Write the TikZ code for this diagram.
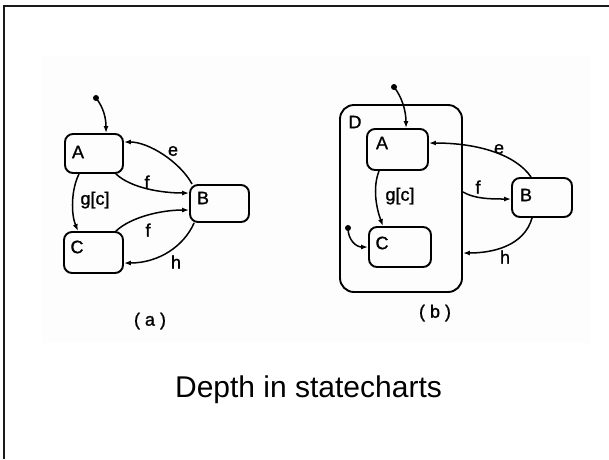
\documentclass[tikz,border=0pt]{standalone}
\usepackage{fontspec}
\setmainfont{Liberation Sans}
\usetikzlibrary{arrows.meta,calc}

\tikzset{
  state/.style={draw, line width=1.9pt, rounded corners=8pt, inner sep=0pt},
  super/.style={draw, line width=1.9pt, rounded corners=14pt, inner sep=0pt},
  lbl/.style={font=\fontsize{18}{18}\selectfont\addfontfeature{FakeBold=1.2}, inner sep=0pt},
  trans/.style={line width=1.5pt, -{Latex[length=7pt,width=5pt]}},
  initdot/.style={circle, fill=black, inner sep=0pt, minimum size=6pt},
}

\begin{document}
\begin{tikzpicture}[x=1pt,y=-1pt]
\useasboundingbox (0,0) rectangle (609,459);
\fill[white] (0,0) rectangle (609,459);

% page frame (left and top edges)
\draw[line width=2pt, black!90] (4,459) -- (4,5.5) -- (609,5.5);

% scanned figure area
\fill[black!0.8] (42,56) rectangle (591,343);

% ---------- (a) flat statechart ----------
\node[state, minimum width=58pt, minimum height=39pt] (aA) at (94,153.5) {};
\node[state, minimum width=59pt, minimum height=37pt] (aB) at (219.5,203.5) {};
\node[state, minimum width=59pt, minimum height=41pt] (aC) at (93.5,252.5) {};
\node[lbl] (aAt) at (78,152) {A};
\node[lbl] (aBt) at (203,198) {B};
\node[lbl] (aCt) at (77,247) {C};

\node[initdot] (a0) at (96,98) {};
\draw[trans] (a0.center) .. controls +(8,10) and +(0,-14) .. ($(aA.north)+(12,0)$);
\draw[trans] ($(aB.north west)+(3,0)$) .. controls +(-12,-22) and +(25,0) .. ($(aA.east)+(0,-11.5)$);
\draw[trans] ($(aA.south east)+(-8,0)$) .. controls +(15,14) and +(-28,0) .. ($(aB.west)+(0,-10.5)$);
\draw[trans] ($(aA.south)+(-15,0)$) .. controls +(-8,16) and +(-7,-17) .. ($(aC.north)+(-15.5,0)$);
\draw[trans] ($(aC.north east)+(-8,0)$) .. controls +(15,-14) and +(-28,0) .. ($(aB.west)+(0,6.5)$);
\draw[trans] ($(aB.south west)+(5,0)$) .. controls +(-10,23) and +(35,0) .. ($(aC.east)+(0,10.5)$);

\node[lbl] (ae) at (173,151) {e};
\node[lbl] (af1) at (147,182) {f};
\node[lbl] (ag) at (95,200) {g[c]};
\node[lbl] (af2) at (148,230) {f};
\node[lbl] (ah) at (176,262) {h};
\node[lbl] (acap) at (150,321) {( a )};

% ---------- (b) with superstate D ----------
\node[super, minimum width=122pt, minimum height=187pt] (bD) at (401,198.5) {};
\node[state, minimum width=61pt, minimum height=41pt] (bA) at (397.5,149.5) {};
\node[state, minimum width=62pt, minimum height=40pt] (bC) at (400,247) {};
\node[state, minimum width=60pt, minimum height=39pt] (bB) at (542,197.5) {};
\node[lbl] (bDt) at (355,122) {D};
\node[lbl] (bAt) at (382,143) {A};
\node[lbl] (bCt) at (382,243) {C};
\node[lbl] (bBt) at (526,195) {B};

\node[initdot] (b0) at (394,87) {};
\node[initdot] (b1) at (348,228) {};
\draw[trans] (b0.center) .. controls +(8,10) and +(0,-17) .. ($(bA.north)+(8.5,0)$);
\draw[trans] ($(bB.north west)+(20,0)$) .. controls +(-15,-22) and +(50,0) .. ($(bA.east)+(0,-6.5)$);
\draw[trans] ($(bD.east)+(0,-6.5)$) .. controls +(12,7) and +(-20,0) .. ($(bB.west)+(0,1.5)$);
\draw[trans] ($(bB.south west)+(21,0)$) .. controls +(-8,28) and +(30,0) .. ($(bD.east)+(0,54.5)$);
\draw[trans] ($(bA.south)+(-18.5,0)$) .. controls +(-7,18) and +(-6,-16) .. ($(bC.north)+(-17,0)$);
\draw[trans] (b1.center) .. controls +(0,12) and +(-12,0) .. (bC.west);

\node[lbl] (be) at (499,149) {e};
\node[lbl] (bf) at (478,187) {f};
\node[lbl] (bg) at (400,196) {g[c]};
\node[lbl] (bh) at (505,257) {h};
\node[lbl] (bcap) at (435,313) {( b )};

% caption
\node[font=\fontsize{30}{30}\selectfont, anchor=base, inner sep=0pt] (title) at (308.5,397) {Depth in statecharts};
\end{tikzpicture}
\end{document}
